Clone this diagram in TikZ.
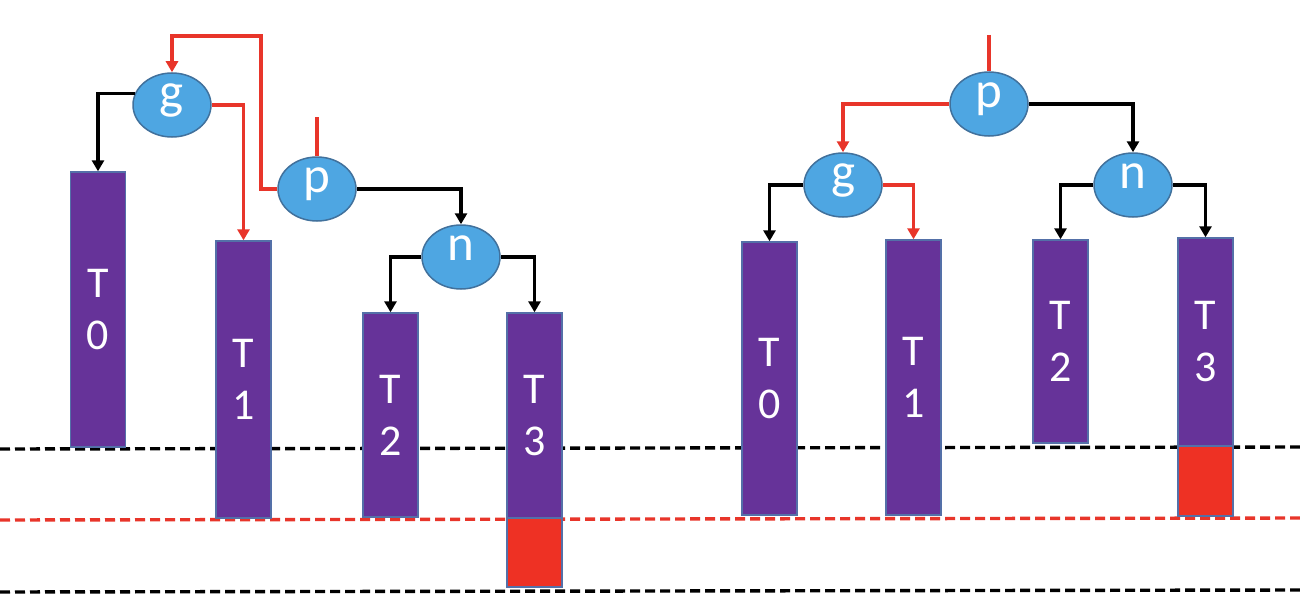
\documentclass[tikz,border=0pt]{standalone}
\usepackage{fontspec}
\setmainfont{Carlito}
\usepackage{xcolor}
\usepackage{tikz}
\usetikzlibrary{arrows.meta,shapes.geometric}
\definecolor{TreeBlue}{HTML}{4EA6E2}
\definecolor{TreeEdge}{HTML}{41719C}
\definecolor{SubPurple}{HTML}{663399}
\definecolor{SubEdge}{HTML}{5470A8}
\definecolor{LinkRed}{HTML}{E8352A}
\definecolor{OverRed}{HTML}{EE3124}
\tikzset{
  treenode/.style={ellipse,draw=TreeEdge,line width=1.5pt,fill=TreeBlue,minimum width=78pt,minimum height=64pt,inner sep=0pt,text=white,font=\fontsize{51}{51}\selectfont,text height=0.93em,text depth=0.25em},
  subtree/.style={rectangle,draw=SubEdge,line width=1.4pt,fill=SubPurple,minimum width=55pt,inner sep=0pt,text=white,align=center,font=\fontsize{44}{52}\selectfont},
  overflow/.style={rectangle,draw=SubEdge,line width=1.4pt,fill=OverRed,minimum width=55pt,inner sep=0pt},
  blackarrow/.style={-{Triangle[length=11pt,width=12pt]},line width=3.2pt,draw=black},
  redarrow/.style={-{Triangle[length=11pt,width=12pt]},line width=3.2pt,draw=LinkRed},
  redlink/.style={line width=3.2pt,draw=LinkRed},
  levelline/.style={dash pattern=on 10pt off 5pt,line width=3.4pt}
}
\begin{document}
\begin{tikzpicture}[x=1pt,y=-1pt]
\useasboundingbox (0,0) rectangle (1300,610);
\fill[white] (0,0) rectangle (1300,610);
% height levels
\draw[levelline,draw=black] (0,449) -- (1300,447);
\draw[levelline,draw=LinkRed] (0,520) -- (1300,518);
\draw[levelline,draw=black] (0,592) -- (1300,590);
% before rotation
\node[treenode] (lg) at (172,105) {g};
\node[treenode] (lp) at (317,189) {p};
\node[treenode] (ln) at (461,257) {n};
\node[subtree,minimum height=275pt] (lT0) at (98,309.5) {T\\0};
\node[subtree,minimum height=277pt] (lT1) at (243.5,379.5) {T\\1};
\node[subtree,minimum height=204pt] (lT2) at (390.5,415) {T\\2};
\node[subtree,minimum height=205pt] (lT3) at (534.5,415.5) {T\\3};
\node[overflow,minimum height=69pt] (lX) at (534.5,552.5) {};
\coordinate (ltop) at (317,117);
\coordinate (lloop) at (261,36);
\draw[redlink] (ltop)--(lp.north);
\draw[redarrow] (lp.west) -| (lloop) -| (lg.north);
\draw[blackarrow] (lg.163) -| (lT0.north);
\draw[redarrow] (lg.east) -| (lT1.north);
\draw[blackarrow] (lp.east) -| (ln.north);
\draw[blackarrow] (ln.west) -| (lT2.north);
\draw[blackarrow] (ln.east) -| (lT3.north);
% after rotation
\node[treenode] (rp) at (989,104) {p};
\node[treenode] (rg) at (843,185) {g};
\node[treenode] (rn) at (1133,185) {n};
\node[subtree,minimum height=273pt] (rT0) at (769.5,378.5) {T\\0};
\node[subtree,minimum height=275pt] (rT1) at (913.5,377.5) {T\\1};
\node[subtree,minimum height=203pt] (rT2) at (1060.5,341.5) {T\\2};
\node[subtree,minimum height=208pt] (rT3) at (1205.5,342) {T\\3};
\node[overflow,minimum height=70pt] (rX) at (1205.5,481) {};
\coordinate (rtop) at (989,35);
\draw[redlink] (rtop)--(rp.north);
\draw[redarrow] (rp.west) -| (rg.north);
\draw[blackarrow] (rp.east) -| (rn.north);
\draw[blackarrow] (rg.west) -| (rT0.north);
\draw[redarrow] (rg.east) -| (rT1.north);
\draw[blackarrow] (rn.west) -| (rT2.north);
\draw[blackarrow] (rn.east) -| (rT3.north);
\end{tikzpicture}
\end{document}
